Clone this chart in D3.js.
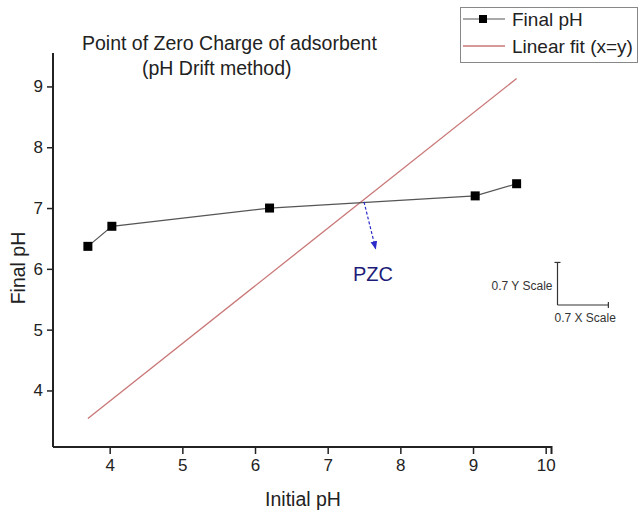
<!DOCTYPE html>
<html lang="en">
<head>
<meta charset="utf-8">
<title>Point of Zero Charge</title>
<style type="text/css">
    body { margin: 0; background: #fff; }
    text { font-family: Arial, "Liberation Sans", sans-serif; fill: #222; }
</style>
<script src="https://d3js.org/d3.v7.min.js"></script>
</head>
<body>
<div id="chart"></div>
<script type="text/javascript">
    // measured values
    var initialPH = [3.7, 4.03, 6.2, 9.03, 9.6],
        finalPH = [6.37, 6.7, 7.0, 7.2, 7.4],
        fitX = [3.7, 9.6],
        fitY = [3.54, 9.13],
        pzc = {x: 7.5, y: 7.1, tipX: 7.66, tipY: 6.33},
        xTicks = [4, 5, 6, 7, 8, 9, 10],
        yTicks = [4, 5, 6, 7, 8, 9],
        minorTicks = [3.5, 4.5, 5.5, 6.5, 7.5, 8.5, 9.5],
        legendLabels = ["Final pH", "Linear fit (x=y)"];

    var W = 638, H = 515;
    var svg = d3.select("#chart").append("svg").attr("width", W).attr("height", H);

    var x = d3.scaleLinear().domain([3.22, 10.08]).range([53, 551.5]),
        y = d3.scaleLinear().domain([3.07, 9.55]).range([447, 53]);

    // axes
    var xAxis = svg.append("g").attr("transform", "translate(0," + y.range()[0] + ")");
    xAxis.call(d3.axisBottom(x).tickValues(minorTicks).tickSize(4).tickFormat(""));
    xAxis.call(d3.axisBottom(x).tickValues(xTicks).tickSize(7).tickPadding(5).tickFormat(d3.format("d")));
    var yAxis = svg.append("g").attr("transform", "translate(" + x.range()[0] + ",0)");
    yAxis.call(d3.axisLeft(y).tickValues(minorTicks).tickSize(4).tickFormat(""));
    yAxis.call(d3.axisLeft(y).tickValues(yTicks).tickSize(6).tickPadding(4).tickFormat(d3.format("d")));

    svg.selectAll(".domain").attr("stroke", "#222").attr("stroke-width", 2);
    svg.selectAll(".tick line").attr("stroke", "#222").attr("stroke-width", 1.5);
    svg.selectAll(".tick text").style("font-size", "17px").attr("fill", "#222");
    xAxis.select(".domain").attr("d", "M" + x.range()[0] + ",0H" + x.range()[1] + "V7");
    yAxis.select(".domain").attr("d", "M0," + y.range()[0] + "V" + y.range()[1]);

    // linear fit
    svg.append("line")
        .attr("x1", x(fitX[0])).attr("y1", y(fitY[0]))
        .attr("x2", x(fitX[1])).attr("y2", y(fitY[1]))
        .attr("stroke", "#c97676").attr("stroke-width", 1.3);

    // data line + markers
    var pts = initialPH.map(function (d, i) { return [d, finalPH[i]]; });
    svg.append("path").datum(pts)
        .attr("d", d3.line().x(function (d) { return x(d[0]); }).y(function (d) { return y(d[1]); }))
        .attr("fill", "none").attr("stroke", "#555").attr("stroke-width", 1.2);
    svg.append("g").selectAll("rect").data(pts).enter().append("rect")
        .attr("x", function (d) { return x(d[0]) - 4.5; })
        .attr("y", function (d) { return y(d[1]) - 4.5; })
        .attr("width", 9).attr("height", 9).attr("fill", "#000");

    // PZC arrow
    svg.append("defs").append("marker")
        .attr("id", "arr").attr("viewBox", "0 0 10 10").attr("refX", 9).attr("refY", 5)
        .attr("markerWidth", 7).attr("markerHeight", 7).attr("orient", "auto")
        .append("path").attr("d", "M0,1L10,5L0,9Z").attr("fill", "#2b2bc8");
    svg.append("line")
        .attr("x1", x(pzc.x)).attr("y1", y(pzc.y))
        .attr("x2", x(pzc.tipX)).attr("y2", y(pzc.tipY))
        .attr("stroke", "#2b2bc8").attr("stroke-width", 1.2)
        .attr("stroke-dasharray", "3,2").attr("marker-end", "url(#arr)");
    svg.append("text").attr("x", 373).attr("y", 281).attr("text-anchor", "middle")
        .style("font-size", "20px").style("fill", "#1c1c78").text("PZC");

    // titles
    svg.append("text").attr("x", 82).attr("y", 50).style("font-size", "19.5px")
        .text("Point of Zero Charge of adsorbent");
    svg.append("text").attr("x", 142).attr("y", 75).style("font-size", "19.5px")
        .text("(pH Drift method)");
    svg.append("text").attr("x", 303).attr("y", 506).attr("text-anchor", "middle")
        .style("font-size", "19.5px").text("Initial pH");
    svg.append("text").attr("transform", "translate(25,268) rotate(-90)").attr("text-anchor", "middle")
        .style("font-size", "19.5px").text("Final pH");

    // legend
    var lg = svg.append("g");
    lg.append("rect").attr("x", 460.5).attr("y", 7.5).attr("width", 177).attr("height", 55)
        .attr("fill", "#fff").attr("stroke", "#888").attr("stroke-width", 1);
    lg.append("line").attr("x1", 463).attr("x2", 505).attr("y1", 19).attr("y2", 19)
        .attr("stroke", "#555").attr("stroke-width", 1.2);
    lg.append("rect").attr("x", 479).attr("y", 15).attr("width", 8).attr("height", 8).attr("fill", "#000");
    lg.append("line").attr("x1", 463).attr("x2", 505).attr("y1", 46).attr("y2", 46)
        .attr("stroke", "#c97676").attr("stroke-width", 1.3);
    lg.selectAll("text.lab").data(legendLabels).enter().append("text")
        .attr("x", 512).attr("y", function (d, i) { return 26 + i * 27; })
        .style("font-size", "19px").text(function (d) { return d; });

    // scale bar (0.7 units each way)
    var sb = {x: 557.5, y: 305};
    var dx = x(3.22 + 0.7) - x(3.22), dy = y(3.07) - y(3.07 + 0.7);
    var bar = svg.append("g").attr("stroke", "#333").attr("stroke-width", 1.2);
    bar.append("line").attr("x1", sb.x).attr("x2", sb.x).attr("y1", sb.y).attr("y2", sb.y - dy);
    bar.append("line").attr("x1", sb.x - 3).attr("x2", sb.x + 3).attr("y1", sb.y - dy).attr("y2", sb.y - dy);
    bar.append("line").attr("x1", sb.x).attr("x2", sb.x + dx).attr("y1", sb.y).attr("y2", sb.y);
    bar.append("line").attr("x1", sb.x + dx).attr("x2", sb.x + dx).attr("y1", sb.y - 3).attr("y2", sb.y + 3);
    svg.append("text").attr("x", sb.x - 5).attr("y", 290).attr("text-anchor", "end")
        .style("font-size", "12px").style("fill", "#333").text("0.7 Y Scale");
    svg.append("text").attr("x", sb.x - 3).attr("y", 322)
        .style("font-size", "12px").style("fill", "#333").text("0.7 X Scale");
</script>
</body>
</html>
